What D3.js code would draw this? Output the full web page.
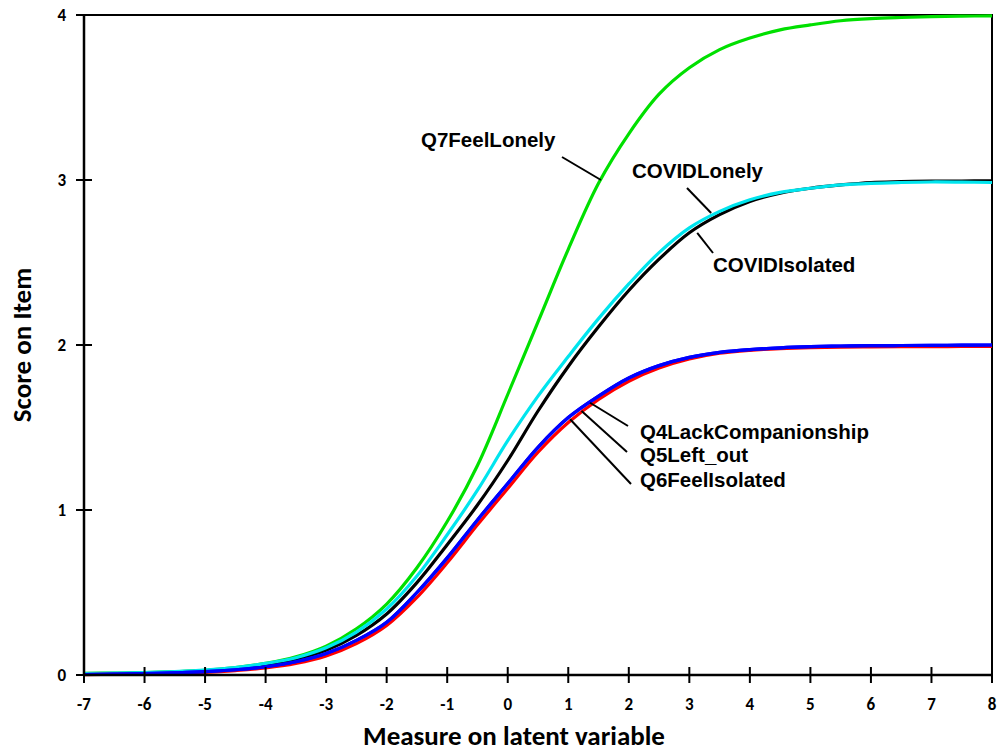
<!DOCTYPE html>
<html>
<head>
<meta charset="utf-8">
<script src="https://cdn.jsdelivr.net/npm/d3@7/dist/d3.min.js"></script>
<style>
  html, body { margin: 0; padding: 0; background: #fff; }
  svg { display: block; }
</style>
</head>
<body>
<svg id="chart" width="999" height="756"></svg>
<script>
// Expected score curves (item characteristic curves) along the latent measure
const measures = [-7, -6.5, -6, -5.5, -5, -4.5, -4, -3.5, -3, -2.5, -2, -1.5, -1, -0.5,
                  0, 0.5, 1, 1.5, 2, 2.5, 3, 3.5, 4, 4.5, 5, 5.5, 6, 6.5, 7, 7.5, 8];

const q7FeelLonely = [0.01, 0.012, 0.015, 0.02, 0.028, 0.045, 0.07, 0.11, 0.175, 0.28, 0.43, 0.65, 0.93, 1.27,
                      1.70, 2.14, 2.58, 2.98, 3.28, 3.52, 3.68, 3.79, 3.86, 3.91, 3.94, 3.965, 3.978, 3.985, 3.99, 3.993, 3.995];
const covidIsolated = [0.005, 0.007, 0.01, 0.016, 0.025, 0.04, 0.06, 0.095, 0.15, 0.24, 0.37, 0.56, 0.79, 1.03,
                       1.30, 1.60, 1.87, 2.11, 2.33, 2.52, 2.68, 2.79, 2.87, 2.92, 2.95, 2.97, 2.985, 2.99, 2.993, 2.994, 2.995];
const covidLonely = [0.008, 0.011, 0.015, 0.021, 0.03, 0.045, 0.07, 0.105, 0.165, 0.26, 0.40, 0.60, 0.85, 1.12,
                     1.42, 1.69, 1.93, 2.16, 2.37, 2.56, 2.71, 2.81, 2.88, 2.925, 2.95, 2.97, 2.98, 2.985, 2.988, 2.987, 2.985];
const q6FeelIsolated = [0.002, 0.004, 0.006, 0.01, 0.016, 0.027, 0.043, 0.07, 0.115, 0.19, 0.30, 0.47, 0.68, 0.91,
                        1.13, 1.35, 1.53, 1.67, 1.78, 1.86, 1.915, 1.95, 1.968, 1.978, 1.984, 1.987, 1.989, 1.99, 1.99, 1.991, 1.991];
const q4LackCompanionship = [0.003, 0.005, 0.008, 0.013, 0.02, 0.032, 0.05, 0.08, 0.13, 0.21, 0.32, 0.50, 0.71, 0.94,
                             1.16, 1.38, 1.56, 1.69, 1.80, 1.875, 1.925, 1.955, 1.972, 1.983, 1.99, 1.994, 1.996, 1.997, 1.998, 1.999, 2.0];
const q5LeftOut = [0.003, 0.005, 0.008, 0.013, 0.02, 0.032, 0.05, 0.08, 0.13, 0.21, 0.32, 0.50, 0.71, 0.94,
                   1.16, 1.38, 1.56, 1.69, 1.80, 1.875, 1.925, 1.955, 1.972, 1.983, 1.99, 1.994, 1.996, 1.997, 1.998, 1.999, 2.0];

const xTicks = [-7, -6, -5, -4, -3, -2, -1, 0, 1, 2, 3, 4, 5, 6, 7, 8];
const yTicks = [0, 1, 2, 3, 4];

// drawing order: later series sit on top
const seriesNames = ["Q7FeelLonely", "COVIDIsolated", "COVIDLonely", "Q6FeelIsolated", "Q4LackCompanionship", "Q5Left_out"];
const seriesValues = [q7FeelLonely, covidIsolated, covidLonely, q6FeelIsolated, q4LackCompanionship, q5LeftOut];
const seriesColors = ["#00e000", "#000000", "#00e5ee", "#ff0000", "#0000ff", "#0000ff"];

// Callout labels: the point on the curve (data units) and where the text sits (pixels)
const labelNames = ["Q7FeelLonely", "COVIDLonely", "COVIDIsolated", "Q4LackCompanionship", "Q5Left_out", "Q6FeelIsolated"];
const labelAtX = [1.54, 3.36, 3.13, 1.36, 1.22, 1.03];
const labelAtY = [3.00, 2.80, 2.68, 1.65, 1.60, 1.55];
const labelTextPos = [[421, 147], [632, 178], [713, 272], [640, 439], [640, 462], [640, 487]];
const labelLineEnd = [[562, 157], [687, 188], [713, 253], [628, 426], [627, 452], [631, 484]];

const svg = d3.select("#chart");
const margin = { left: 84, right: 7, top: 15, bottom: 81 };
const W = 999, H = 756;

const x = d3.scaleLinear().domain([-7, 8]).range([margin.left, W - margin.right]);
const y = d3.scaleLinear().domain([0, 4]).range([H - margin.bottom, margin.top]);

const tickFont = "Carlito, Lato, 'Open Sans', sans-serif";

// frame (top and right edges)
svg.append("path")
  .attr("d", `M${x(-7)},${y(4)}H${x(8)}V${y(0)}`)
  .attr("fill", "none").attr("stroke", "#000").attr("stroke-width", 2);

// curves
const line = d3.line()
  .x((d, i) => x(measures[i]))
  .y(d => y(d))
  .curve(d3.curveCatmullRom.alpha(0.5));

seriesValues.forEach((vals, k) => {
  svg.append("path")
    .datum(vals)
    .attr("d", line)
    .attr("fill", "none")
    .attr("stroke", seriesColors[k])
    .attr("stroke-width", 3.2)
    .attr("stroke-linejoin", "round")
    .attr("class", "series " + seriesNames[k]);
});

// x axis
const xAxis = svg.append("g").attr("transform", `translate(0,${y(0)})`);
xAxis.append("line").attr("x1", x(-7)).attr("x2", x(8)).attr("stroke", "#000").attr("stroke-width", 2.5);
xAxis.selectAll("line.tick").data(xTicks).enter().append("line")
  .attr("class", "tick")
  .attr("x1", d => x(d)).attr("x2", d => x(d))
  .attr("y1", -8).attr("y2", 8)
  .attr("stroke", "#000").attr("stroke-width", 2);
xAxis.selectAll("text").data(xTicks).enter().append("text")
  .attr("x", d => x(d)).attr("y", 35)
  .attr("text-anchor", "middle")
  .attr("font-family", tickFont).attr("font-weight", "bold").attr("font-size", 17)
  .text(d => d);

// y axis
const yAxis = svg.append("g").attr("transform", `translate(${x(-7)},0)`);
yAxis.append("line").attr("y1", y(0)).attr("y2", y(4)).attr("stroke", "#000").attr("stroke-width", 2.5);
yAxis.selectAll("line.tick").data(yTicks).enter().append("line")
  .attr("class", "tick")
  .attr("y1", d => y(d)).attr("y2", d => y(d))
  .attr("x1", -8).attr("x2", 8)
  .attr("stroke", "#000").attr("stroke-width", 2);
yAxis.selectAll("text").data(yTicks).enter().append("text")
  .attr("x", -18).attr("y", d => y(d))
  .attr("dy", "0.35em")
  .attr("text-anchor", "end")
  .attr("font-family", tickFont).attr("font-weight", "bold").attr("font-size", 17)
  .text(d => d);

// axis titles
svg.append("text")
  .attr("x", 514).attr("y", 745)
  .attr("text-anchor", "middle")
  .attr("font-family", tickFont).attr("font-weight", "bold").attr("font-size", 27)
  .text("Measure on latent variable");

svg.append("text")
  .attr("transform", `translate(31,${(y(0) + y(4)) / 2}) rotate(-90)`)
  .attr("text-anchor", "middle")
  .attr("font-family", tickFont).attr("font-weight", "bold").attr("font-size", 27)
  .text("Score on Item");

// callouts
labelNames.forEach((name, i) => {
  svg.append("line")
    .attr("x1", labelLineEnd[i][0]).attr("y1", labelLineEnd[i][1])
    .attr("x2", x(labelAtX[i])).attr("y2", y(labelAtY[i]))
    .attr("stroke", "#000").attr("stroke-width", 2);
  svg.append("text")
    .attr("x", labelTextPos[i][0]).attr("y", labelTextPos[i][1])
    .attr("font-family", "'Liberation Sans', Arial, sans-serif")
    .attr("font-weight", "bold").attr("font-size", 20.5)
    .text(name);
});
</script>
</body>
</html>
